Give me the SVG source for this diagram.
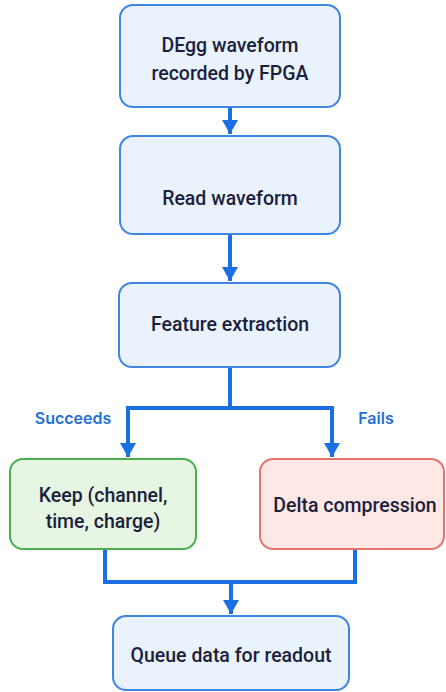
<svg xmlns="http://www.w3.org/2000/svg" width="446" height="692" viewBox="0 0 446 692">
  <defs>
    <marker id="arrow" viewBox="0 0 14 16" refX="14" refY="8" markerWidth="14" markerHeight="16" markerUnits="userSpaceOnUse" orient="auto">
      <path d="M0,0 L14,8 L0,16 Z" fill="#1a6fe3"/>
    </marker>
    <style>
      .box { fill: #eaf2fd; stroke: #3f86e3; stroke-width: 2; }
      .ok { fill: #e7f5e3; stroke: #4caf50; stroke-width: 2; }
      .bad { fill: #fde8e6; stroke: #e5736f; stroke-width: 2; }
      .t { font-family: Roboto, "Liberation Sans", sans-serif; font-size: 19.5px; font-weight: 500; fill: #1b1f3b; text-anchor: middle; }
      .lbl { font-family: Inter, "Liberation Sans", sans-serif; font-size: 16px; font-weight: 600; fill: #1f6fd8; text-anchor: middle; }
      .c { fill: none; stroke: #1a6fe3; stroke-width: 4; }
    </style>
  </defs>
  <rect width="446" height="692" fill="#ffffff"/>

  <g id="connectors">
    <path class="c" d="M230,108 V134" marker-end="url(#arrow)"/>
    <path class="c" d="M230,234 V281" marker-end="url(#arrow)"/>
    <path class="c" d="M230,367 V408"/>
    <path class="c" d="M128,408 H332"/>
    <path class="c" d="M128,406 V457" marker-end="url(#arrow)"/>
    <path class="c" d="M332,406 V457" marker-end="url(#arrow)"/>
    <path class="c" d="M105,550 V582 H355 V550"/>
    <path class="c" d="M231,582 V614" marker-end="url(#arrow)"/>
    <text class="lbl" x="73" y="424">Succeeds</text>
    <text class="lbl" x="376" y="424">Fails</text>
  </g>

  <g id="n-record">
    <rect class="box" x="120" y="5" width="220" height="102" rx="13"/>
    <text class="t" x="230" y="52">DEgg waveform</text>
    <text class="t" x="230" y="80">recorded by FPGA</text>
  </g>

  <g id="n-read">
    <rect class="box" x="120" y="136" width="220" height="98" rx="13"/>
    <text class="t" x="230" y="205">Read waveform</text>
  </g>

  <g id="n-extract">
    <rect class="box" x="119" y="283" width="221" height="84" rx="13"/>
    <text class="t" x="230" y="331">Feature extraction</text>
  </g>

  <g id="n-keep">
    <rect class="ok" x="10" y="459" width="186" height="90" rx="13"/>
    <text class="t" x="103" y="502">Keep (channel,</text>
    <text class="t" x="103" y="528">time, charge)</text>
  </g>

  <g id="n-delta">
    <rect class="bad" x="260" y="459" width="184" height="90" rx="13"/>
    <text class="t" x="355" y="512">Delta compression</text>
  </g>

  <g id="n-queue">
    <rect class="box" x="113" y="616" width="236" height="74" rx="13"/>
    <text class="t" x="231" y="662">Queue data for readout</text>
  </g>
</svg>
